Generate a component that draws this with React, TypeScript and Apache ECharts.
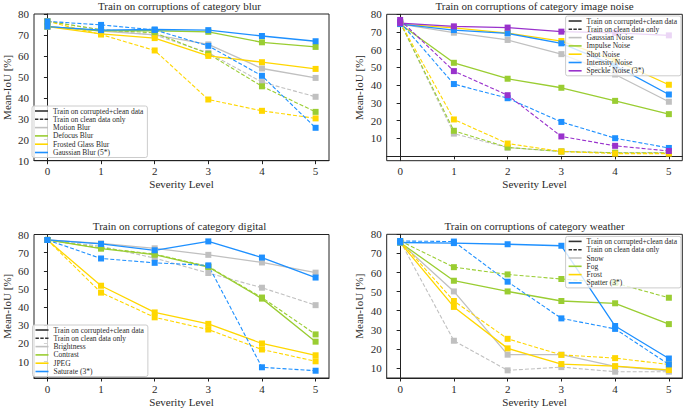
import React, { useEffect, useRef } from "react";
import * as echarts from "echarts";

const severity = [0, 1, 2, 3, 4, 5];
const SOLID = "Train on corrupted+clean data";
const DASHED = "Train on clean data only";
const FONT = "Liberation Serif";
const INK = "#2a2a2a";

const colors5 = ["#c0c0c0", "#9acd32", "#ffd700", "#1e90ff", "#9932cc"];

// category blur
const blurTitle = "Train on corruptions of category blur";
const blurNames = ["Motion Blur", "Defocus Blur", "Frosted Glass Blur", "Gaussian Blur (5*)"];
const blurTrained = [
  [74, 71.8, 70, 65.5, 54, 49.5],
  [74, 72, 72, 71.5, 66.5, 64.3],
  [74, 70.5, 68.5, 60, 57, 53.8],
  [74, 72.3, 72.6, 72.3, 69.5, 67],
];
const blurClean = [
  [76.5, 72.5, 70, 61.5, 47.5, 40.5],
  [76.5, 72.5, 71, 61, 45.5, 33.3],
  [76.5, 70.2, 62.6, 39.2, 33.8, 30.2],
  [76.5, 74.8, 72.4, 64.8, 50.5, 25.7],
];

// category image noise
const noiseTitle = "Train on corruptions of category image noise";
const noiseNames = ["Gaussian Noise", "Impulse Noise", "Shot Noise", "Intensity Noise", "Speckle Noise (3*)"];
const noiseTrained = [
  [74.5, 69.6, 65.5, 57.5, 46, 30.6],
  [74.5, 52.6, 43.6, 38.5, 31.1, 23.6],
  [74.5, 72.3, 69.4, 64.9, 54, 40.2],
  [74.5, 71.1, 69.2, 63.6, 51, 34.7],
  [75, 73.2, 72.5, 70.2, 69.5, 68.1],
];
const noiseClean = [
  [75.5, 12.6, 4.7, 2.5, 1.8, 1.8],
  [75.5, 14.2, 4.8, 2.5, 1.8, 1.8],
  [75.5, 20.6, 7, 2.5, 1.3, 1.3],
  [75.5, 40.6, 32.6, 19.2, 10, 4.5],
  [76.8, 47.9, 34.3, 11, 5.7, 2.8],
];

// category digital
const digitalTitle = "Train on corruptions of category digital";
const digitalNames = ["Brightness", "Contrast", "JPEG", "Saturate (3*)"];
const digitalTrained = [
  [77, 75.1, 72.4, 68.8, 64.6, 59],
  [77, 72.2, 68.9, 62.1, 44.7, 21],
  [77, 51.8, 37.1, 30.8, 20, 13.5],
  [77, 74.8, 71.3, 76.2, 67.3, 56.3],
];
const digitalClean = [
  [77, 73.5, 67, 58.8, 50.7, 41.1],
  [77, 72.6, 69.2, 62.4, 45.3, 25],
  [77, 48, 34.4, 27.7, 16.7, 10.2],
  [77, 66.8, 64.4, 63, 6.9, 5],
];

// category weather
const weatherTitle = "Train on corruptions of category weather";
const weatherNames = ["Snow", "Fog", "Frost", "Spatter (3*)"];
const weatherTrained = [
  [75.7, 50.1, 17, 17, 10.9, 8.6],
  [75.7, 55.7, 50.1, 45.1, 43.9, 33],
  [75.7, 42, 20.3, 12.1, 11, 9],
  [75.7, 75.4, 74.8, 74, 32, 15],
];
const weatherClean = [
  [76.5, 24.3, 8.8, 10.5, 8.1, 8.1],
  [76.5, 62.8, 59, 56.6, 54.5, 46.8],
  [76.5, 45.1, 25.3, 16.9, 15.2, 11.9],
  [76.5, 76.2, 55.2, 36, 30.5, 11.9],
];

const yTicks = [10, 20, 30, 40, 50, 60, 70, 80];

const panels = [
  { title: blurTitle, names: blurNames, trained: blurTrained, clean: blurClean, colors: [colors5[0], colors5[1], colors5[2], colors5[3]],
    grid: { left: 30, top: 14, width: 299, height: 146.7 }, yMin: 10,
    legend: { left: 32, top: 106 } },
  { title: noiseTitle, names: noiseNames, trained: noiseTrained, clean: noiseClean, colors: colors5,
    grid: { left: 386.7, top: 14.3, width: 295.6, height: 146.4 }, yMin: -2.7,
    legend: { right: 4, top: 16 } },
  { title: digitalTitle, names: digitalNames, trained: digitalTrained, clean: digitalClean, colors: [colors5[0], colors5[1], colors5[2], colors5[3]],
    grid: { left: 30, top: 234.5, width: 299, height: 147.4 }, yMin: 1,
    legend: { left: 32.5, top: 325 } },
  { title: weatherTitle, names: weatherNames, trained: weatherTrained, clean: weatherClean, colors: [colors5[0], colors5[1], colors5[2], colors5[3]],
    grid: { left: 386.7, top: 234.3, width: 295.6, height: 147 }, yMin: 4.8,
    legend: { right: 4, top: 236.4 } },
];

const solidIcon = "path://M0,0H13V1.6H0Z";
const dashIcon = "path://M0,0h3.4v1.6h-3.4z M4.8,0h3.4v1.6h-3.4z M9.6,0h3.4v1.6h-3.4z";

function buildOption() {
  const grids: any[] = [];
  const xAxes: any[] = [];
  const yAxes: any[] = [];
  const series: any[] = [];
  const legends: any[] = [];
  const graphics: any[] = [];

  series.push({ type: "line", name: SOLID, data: [], xAxisIndex: 0, yAxisIndex: 0, symbol: "none", lineStyle: { color: "#222" }, itemStyle: { color: "#222" } });
  series.push({ type: "line", name: DASHED, data: [], xAxisIndex: 0, yAxisIndex: 0, symbol: "none", lineStyle: { color: "#222", type: "dashed" }, itemStyle: { color: "#222" } });

  panels.forEach((p, pi) => {
    grids.push({ ...p.grid, show: true, borderColor: "#222", borderWidth: 1, backgroundColor: "transparent", containLabel: false });
    xAxes.push({
      type: "value", gridIndex: pi, min: -0.25, max: 5.25,
      name: "Severity Level", nameLocation: "middle", nameGap: 18,
      nameTextStyle: { fontFamily: FONT, fontSize: 11, color: INK, fontWeight: "normal" },
      axisLine: { show: true, lineStyle: { color: "#222", width: 1 } },
      axisTick: { show: true, length: 3.5, lineStyle: { color: "#222" }, customValues: severity },
      axisLabel: { show: true, margin: 5, fontFamily: FONT, fontSize: 11, color: INK, customValues: severity },
      splitLine: { show: false },
    });
    yAxes.push({
      type: "value", gridIndex: pi, min: p.yMin, max: 80,
      name: "Mean-IoU [%]", nameLocation: "middle", nameGap: 22, nameRotate: 90,
      nameTextStyle: { fontFamily: FONT, fontSize: 11, color: INK, fontWeight: "normal" },
      axisLine: { show: true, lineStyle: { color: "#222", width: 1 } },
      axisTick: { show: true, length: 3.5, lineStyle: { color: "#222" }, customValues: yTicks },
      axisLabel: { show: true, margin: 5, fontFamily: FONT, fontSize: 11, color: INK, customValues: yTicks },
      splitLine: { show: false },
    });
    p.names.forEach((n, i) => {
      const c = p.colors[i];
      series.push({
        type: "line", name: n, xAxisIndex: pi, yAxisIndex: pi,
        data: severity.map((s, k) => [s, p.trained[i][k]]),
        symbol: "rect", symbolSize: 6, showSymbol: true,
        lineStyle: { color: c, width: 1.3 }, itemStyle: { color: c }, z: 3,
      });
      series.push({
        type: "line", name: n + " \u2013 clean only", xAxisIndex: pi, yAxisIndex: pi,
        data: severity.map((s, k) => [s, p.clean[i][k]]),
        symbol: "rect", symbolSize: 6, showSymbol: true,
        lineStyle: { color: c, width: 1.1, type: [4, 2] }, itemStyle: { color: c }, z: 3,
      });
    });
    legends.push({
      ...p.legend,
      orient: "vertical",
      padding: [1, 4, 1, 3],
      itemGap: 0.3,
      itemWidth: 13,
      itemHeight: 1.6,
      backgroundColor: "rgba(255,255,255,0.8)",
      borderColor: "#cccccc",
      borderWidth: 1,
      borderRadius: 2,
      selectedMode: false,
      textStyle: { fontFamily: FONT, fontSize: 7.5, color: INK, lineHeight: 8 },
      itemStyle: { borderWidth: 0 },
      lineStyle: { width: 0 },
      data: [
        { name: SOLID, icon: solidIcon, itemStyle: { color: "#333", borderWidth: 0 } },
        { name: DASHED, icon: dashIcon, itemStyle: { color: "#333", borderWidth: 0 } },
        ...p.names.map((n, i) => ({ name: n, icon: solidIcon, itemStyle: { color: p.colors[i], borderWidth: 0 } })),
      ],
    });
    graphics.push({
      type: "text",
      x: p.grid.left + p.grid.width / 2,
      y: p.grid.top - 8.5,
      style: { text: p.title, align: "center", verticalAlign: "middle", fontFamily: FONT, fontSize: 11, fontWeight: "normal", fill: INK },
    });
  });

  return {
    animation: false,
    backgroundColor: "#ffffff",
    textStyle: { fontFamily: FONT },
    grid: grids,
    xAxis: xAxes,
    yAxis: yAxes,
    legend: legends,
    series,
    graphic: graphics,
  };
}

export default function App() {
  const ref = useRef<HTMLDivElement>(null);
  useEffect(() => {
    if (!ref.current) return;
    const chart = echarts.init(ref.current, undefined, { renderer: "svg" });
    chart.setOption(buildOption() as any);
    return () => chart.dispose();
  }, []);
  return <div ref={ref} style={{ position: "fixed", left: 0, top: 0, width: 685, height: 408 }} />;
}
